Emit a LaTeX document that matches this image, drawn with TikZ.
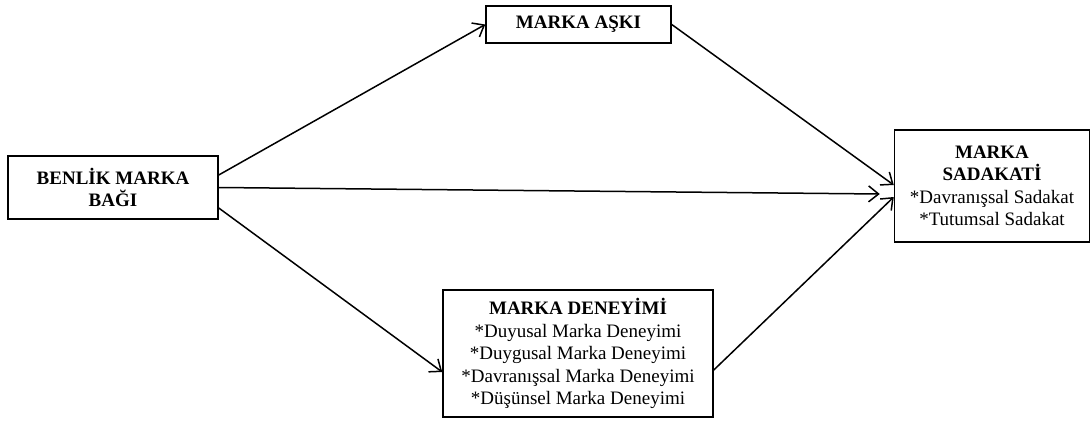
\documentclass[tikz,border=0pt]{standalone}
\usepackage{fontspec}
\setmainfont{Liberation Serif}
\usetikzlibrary{arrows.meta}

\begin{document}
\begin{tikzpicture}[x=1pt, y=-1pt, ->, >={Straight Barb[length=10pt,width=16pt]}, line width=1.5pt,
  box/.style={draw, line width=1.5pt, align=center, inner sep=2pt,
    font=\fontsize{19}{22.5}\selectfont}]

\useasboundingbox (0,0) rectangle (1091,428);

\node[box, minimum width=185pt, minimum height=37pt] (ask) at (578.5,24.5) {\textbf{MARKA AŞKI}};
\node[box, minimum width=210pt, minimum height=63pt] (benlik) at (113,187.5) {\textbf{BENLİK MARKA}\\\textbf{BAĞI}};
\node[box, minimum width=195pt, minimum height=112pt] (sadakat) at (992,186) {\textbf{MARKA}\\\textbf{SADAKATİ}\\*Davranışsal Sadakat\\*Tutumsal Sadakat};
\node[box, minimum width=270pt, minimum height=127pt] (deneyim) at (578,353.5) {\textbf{MARKA DENEYİMİ}\\*Duyusal Marka Deneyimi\\*Duygusal Marka Deneyimi\\*Davranışsal Marka Deneyimi\\*Düşünsel Marka Deneyimi};

\draw ([yshift=12.5pt]benlik.east) -- (ask.west);
\draw (benlik.east) -- ([xshift=-14pt,yshift=-8pt]sadakat.west);
\draw ([yshift=-20.5pt]benlik.east) -- ([yshift=-18.5pt]deneyim.west);
\draw (ask.east) -- ([yshift=1pt]sadakat.west);
\draw ([yshift=-16.5pt]deneyim.east) -- ([yshift=-11pt]sadakat.west);

\end{tikzpicture}
\end{document}
